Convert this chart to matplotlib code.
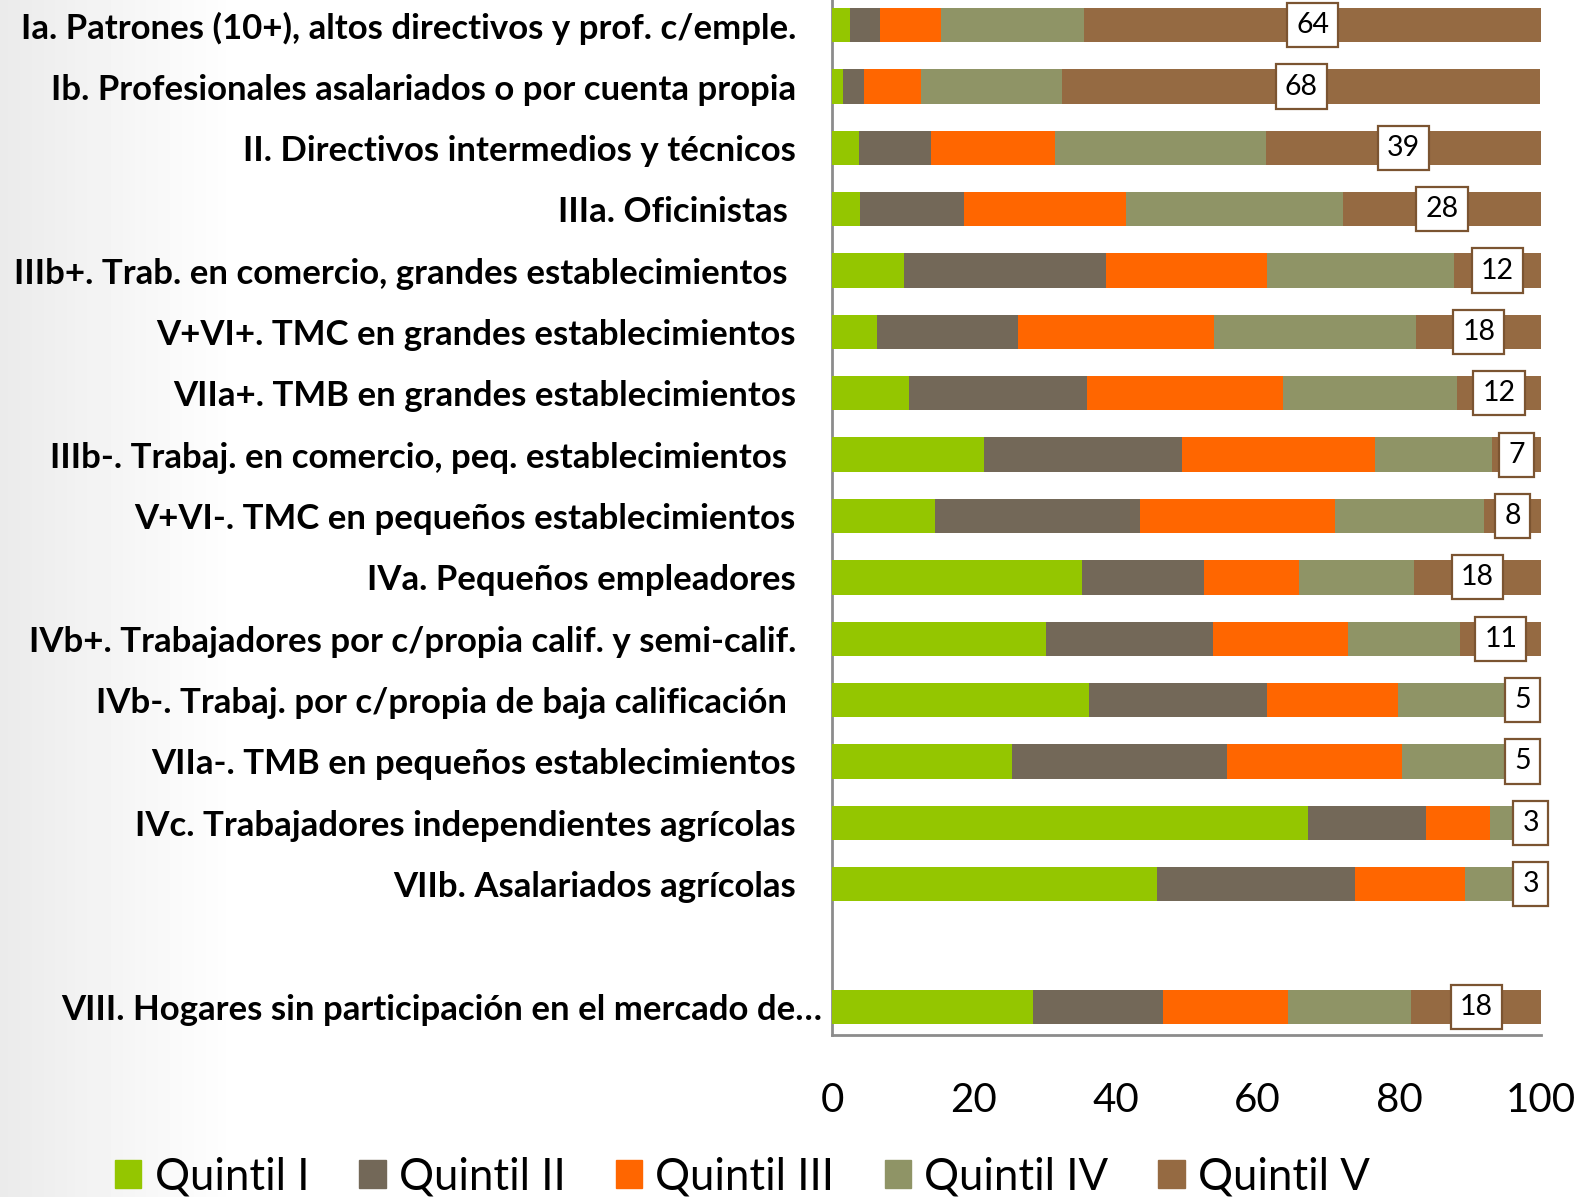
import numpy as np
import matplotlib
matplotlib.use('agg')
import matplotlib.pyplot as plt
from matplotlib.patches import Patch
import matplotlib.transforms as mtransforms

plt.rcParams['font.family'] = ['Lato', 'DejaVu Sans']

categorias = [
    "Ia. Patrones (10+), altos directivos y prof. c/emple.",
    "Ib. Profesionales asalariados o por cuenta propia",
    "II. Directivos intermedios y técnicos",
    "IIIa. Oficinistas ",
    "IIIb+. Trab. en comercio, grandes establecimientos ",
    "V+VI+. TMC en grandes establecimientos",
    "VIIa+. TMB en grandes establecimientos",
    "IIIb-. Trabaj. en comercio, peq. establecimientos ",
    "V+VI-. TMC en pequeños establecimientos",
    "IVa. Pequeños empleadores",
    "IVb+. Trabajadores por c/propia calif. y semi-calif.",
    "IVb-. Trabaj. por c/propia de baja calificación ",
    "VIIa-. TMB en pequeños establecimientos",
    "IVc. Trabajadores independientes agrícolas",
    "VIIb. Asalariados agrícolas",
    "VIII. Hogares sin participación en el mercado de…",
]
posiciones = [0, 1, 2, 3, 4, 5, 6, 7, 8, 9, 10, 11, 12, 13, 14, 16]

quintil_1 = [2.5, 1.6, 3.8, 4.0, 10.1, 6.3, 10.8, 21.4, 14.5, 35.2, 30.2, 36.3, 25.4, 67.1, 45.8, 28.4]
quintil_2 = [4.3, 2.9, 10.1, 14.6, 28.5, 19.9, 25.2, 27.9, 28.9, 17.3, 23.5, 25.0, 30.3, 16.7, 27.9, 18.3]
quintil_3 = [8.5, 8.1, 17.5, 22.9, 22.8, 27.6, 27.6, 27.3, 27.5, 13.3, 19.0, 18.5, 24.7, 9.0, 15.5, 17.6]
quintil_4 = [20.3, 19.8, 29.8, 30.5, 26.3, 28.6, 24.5, 16.5, 21.1, 16.2, 15.9, 15.0, 14.4, 4.2, 7.8, 17.4]
quintil_5 = [64.4, 67.5, 38.8, 28.0, 12.3, 17.6, 11.9, 6.9, 8.0, 18.0, 11.4, 5.2, 5.2, 3.0, 3.0, 18.3]

series = [quintil_1, quintil_2, quintil_3, quintil_4, quintil_5]
nombres = ["Quintil I", "Quintil II", "Quintil III", "Quintil IV", "Quintil V"]
colores = ["#94C600", "#736858", "#FF6600", "#8F9466", "#956A42"]

fig = plt.figure(figsize=(15.83, 11.97), dpi=100)

# fondo con degradado gris a la izquierda
bg = fig.add_axes([0, 0, 1, 1], zorder=-10)
gx = np.linspace(0, 1, 400)
grad = 1 - 0.08 * np.clip(1 - gx / 0.15, 0, 1)
bg.imshow(np.tile(grad, (50, 1)), cmap='gray', vmin=0, vmax=1, aspect='auto',
          extent=[0, 1, 0, 1])
bg.axis('off')

ax = fig.add_axes([0.5256, 0.1353, 0.448, 0.8647])
ax.patch.set_alpha(0)

izq = np.zeros(len(posiciones))
for vals, nom, col in zip(series, nombres, colores):
    ax.barh(posiciones, vals, left=izq, height=0.56, color=col, label=nom, zorder=3)
    izq = izq + np.array(vals)

# etiquetas del quintil V
for y, l, v in zip(posiciones, np.array(izq) - np.array(quintil_5), quintil_5):
    ax.text(l + v / 2, y, f"{v:.0f}", ha='center', va='center', fontsize=20.5,
            color='black', zorder=5,
            bbox=dict(boxstyle='square,pad=0.32', fc='white', ec='#7B5431', lw=1.6))

ax.set_xlim(0, 100)
ax.set_ylim(16.46, -0.41)
ax.set_xticks([0, 20, 40, 60, 80, 100])
ax.set_yticks(posiciones)
ax.set_yticklabels(categorias, fontsize=25, fontweight='bold')
ax.tick_params(axis='y', length=0, pad=26)
ax.tick_params(axis='x', length=0, pad=34, labelsize=29)
for s in ['top', 'right']:
    ax.spines[s].set_visible(False)
for s in ['left', 'bottom']:
    ax.spines[s].set_color('#8C8C8C')
    ax.spines[s].set_linewidth(2)

# la ultima etiqueta llega mas cerca del eje (texto truncado)
lbl = ax.get_yticklabels()[-1]
lbl.set_transform(lbl.get_transform() +
                  mtransforms.ScaledTranslation(19 / 72, 0, fig.dpi_scale_trans))

handles = [Patch(color=c) for c in colores]
fig.legend(handles, nombres, loc='center', bbox_to_anchor=(0.469, 0.017), ncol=5,
           fontsize=31.5, frameon=False, handlelength=0.6, handleheight=0.6,
           handletextpad=0.3, columnspacing=1.15)

fig.savefig('out.png', dpi=100)
